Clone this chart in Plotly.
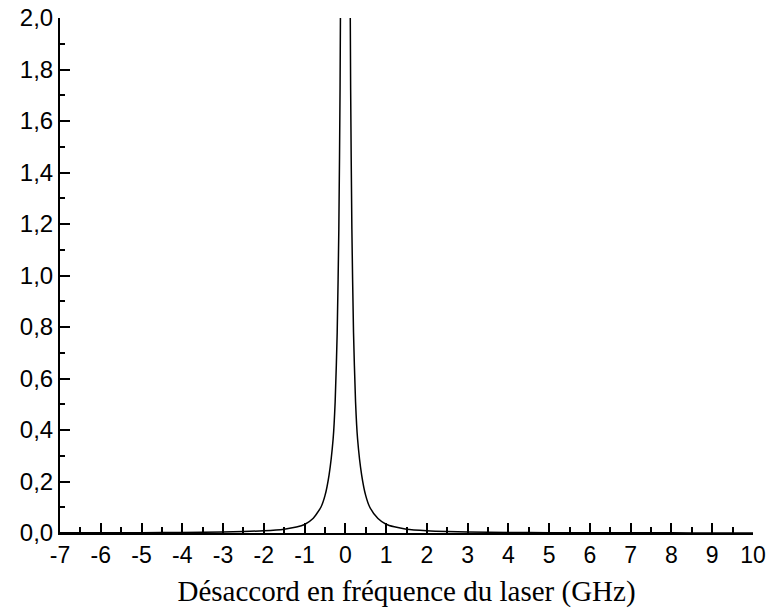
import plotly.graph_objects as go

# Line profile versus laser detuning (GHz)
detuning = [-7, -6, -5, -4, -3, -2.5, -2, -1.5, -1.2, -1.0, -0.8, -0.6, -0.5, -0.4,
            -0.3, -0.25, -0.2, -0.16, -0.13, -0.1, -0.05, 0.0, 0.05, 0.1, 0.13, 0.16,
            0.2, 0.25, 0.3, 0.4, 0.5, 0.6, 0.8, 1.0, 1.2, 1.5, 2, 2.5, 3, 4, 5, 6, 7,
            8, 9, 10]
signal = [0.0006, 0.0008, 0.0012, 0.0020, 0.0038, 0.0055, 0.0088, 0.0150, 0.023,
          0.033, 0.055, 0.100, 0.145, 0.225, 0.365, 0.51, 0.78, 1.18, 1.72, 2.75,
          8.2, 19.6, 8.2, 2.75, 1.72, 1.18, 0.78, 0.51, 0.365, 0.225, 0.145, 0.100,
          0.056, 0.034, 0.024, 0.0150, 0.0090, 0.0058, 0.0040, 0.0022, 0.0014,
          0.0010, 0.0007, 0.0005, 0.0004, 0.0003]

x_ticks = list(range(-7, 11))
x_labels = [str(v) for v in x_ticks]
y_ticks = [0.0, 0.2, 0.4, 0.6, 0.8, 1.0, 1.2, 1.4, 1.6, 1.8, 2.0]
y_labels = ["0,0", "0,2", "0,4", "0,6", "0,8", "1,0", "1,2", "1,4", "1,6", "1,8", "2,0"]

fig = go.Figure()
fig.add_trace(go.Scatter(
    x=detuning, y=signal, mode="lines",
    line=dict(color="black", width=1.5, shape="spline", smoothing=0.6),
    showlegend=False, hoverinfo="skip",
))

x_tick_font = dict(family="Liberation Sans, Arial, sans-serif", size=23, color="black")
y_tick_font = dict(family="Liberation Sans, Arial, sans-serif", size=24, color="black")

fig.update_layout(
    width=769, height=610,
    margin=dict(l=60, r=16, t=18, b=77, autoexpand=False),
    paper_bgcolor="white", plot_bgcolor="white",
    xaxis=dict(
        range=[-7, 10], tickvals=x_ticks, ticktext=x_labels, automargin=False,
        showline=True, linecolor="black", linewidth=2,
        ticks="inside", ticklen=10, tickwidth=2, tickcolor="black",
        minor=dict(ticks="inside", ticklen=6, tickwidth=2, tickcolor="black", dtick=0.5),
        showgrid=False, zeroline=False, tickfont=x_tick_font,
        title=dict(text="Désaccord en fréquence du laser (GHz)",
                   font=dict(family="Liberation Serif, Times New Roman, serif",
                             size=29, color="black"),
                   standoff=14),
    ),
    yaxis=dict(
        range=[0, 2.0], tickvals=y_ticks, ticktext=y_labels, automargin=False,
        showline=True, linecolor="black", linewidth=2,
        ticks="inside", ticklen=10, tickwidth=2, tickcolor="black",
        minor=dict(ticks="inside", ticklen=5, tickwidth=2, tickcolor="black", dtick=0.1),
        showgrid=False, zeroline=False, tickfont=y_tick_font,
    ),
)

fig.write_html("out.html")
